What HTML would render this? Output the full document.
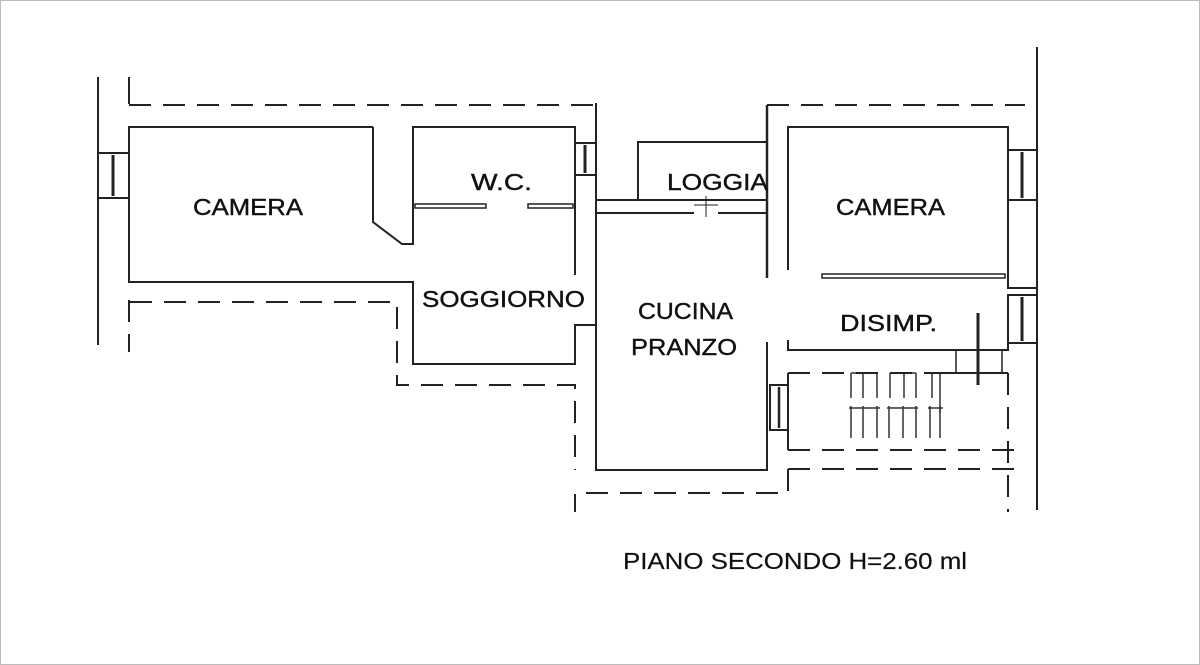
<!DOCTYPE html>
<html><head><meta charset="utf-8"><style>
html,body{margin:0;padding:0;background:#fff}
svg{display:block}
text{font-family:"Liberation Sans",Arial,sans-serif;font-size:23px;fill:#111;stroke:#111;stroke-width:0.4}
</style></head><body>
<svg width="1200" height="665" viewBox="0 0 1200 665" xmlns="http://www.w3.org/2000/svg">
<rect x="0.5" y="0.5" width="1199" height="664" fill="#fff" stroke="#bbb"/>
<g stroke="#222" stroke-width="2" fill="none">
<line x1="98" y1="77" x2="98" y2="345"/>
<line x1="129" y1="77" x2="129" y2="104"/>
<rect x="98" y="153" width="31" height="45"/>
<line x1="113" y1="155" x2="113" y2="196" stroke-width="3"/>
<polyline points="373,127 129,127 129,282 413,282 413,364 575,364 575,325 596,325"/>
<polyline points="373,127 373,222 402,244 413,244 413,127 575,127 575,275"/>
<rect x="575" y="143" width="21" height="32"/>
<line x1="585" y1="145" x2="585" y2="173" stroke-width="3"/>
<line x1="596" y1="103" x2="596" y2="280"/>
<rect x="415" y="204" width="71" height="4" stroke-width="1.5"/>
<rect x="528" y="204" width="45" height="4" stroke-width="1.5"/>
<polyline points="638,200 638,142 766,142"/>
<line x1="596" y1="200" x2="766" y2="200"/>
<line x1="596" y1="213" x2="694" y2="213"/>
<line x1="718" y1="213" x2="766" y2="213"/>
<line x1="694" y1="205" x2="718" y2="205" stroke-width="1"/>
<line x1="706" y1="196" x2="706" y2="217" stroke-width="1"/>
<polyline points="596,213 596,470 767,470 767,342"/>
<line x1="767" y1="105" x2="767" y2="278" stroke-width="2.5"/>
<polyline points="788,270 788,127 1008,127 1008,288 1037,288"/>
<rect x="822" y="274" width="183" height="4" stroke-width="1.5"/>
<rect x="1008" y="150" width="29" height="50"/>
<line x1="1022" y1="152" x2="1022" y2="198" stroke-width="3"/>
<line x1="1037" y1="47" x2="1037" y2="510"/>
<polyline points="788,340 788,350 1008,350 1008,295"/>
<rect x="1008" y="295" width="29" height="48"/>
<line x1="1022" y1="297" x2="1022" y2="341" stroke-width="3"/>
<line x1="978" y1="313" x2="978" y2="385" stroke-width="3"/>
<rect x="956" y="350" width="46" height="23" stroke-width="1.5"/>
<line x1="940" y1="373" x2="1008" y2="373"/>
<polyline points="788,373 788,450"/>
<rect x="770" y="385" width="18" height="45"/>
<line x1="779" y1="387" x2="779" y2="428" stroke-width="2.5"/>
<polyline points="767,373 767,430"/>
</g>
<g stroke="#333" stroke-width="1.5" fill="none">
<path d="M851 373V398M863 373V398M877 373V398M890 373V398M904 373V398M916 373V398M932 373V398M940 373V413"/>
<path d="M851 406V438M863 406V438M877 406V438M889 406V438M903 406V438M916 406V438M930 406V438M940 406V438"/>
<path d="M851 373H877M890 373H916M932 373H940M849 408H880M887 408H918M928 408H943"/>
</g>
<g stroke="#222" stroke-width="2" fill="none" stroke-dasharray="22,12">
<line x1="129" y1="105" x2="596" y2="105"/>
<line x1="767" y1="105" x2="1025" y2="105"/>
<polyline points="130,302 397,302 397,385 575,385 575,470"/>
<line x1="129" y1="300" x2="129" y2="352"/>
<line x1="788" y1="373" x2="950" y2="373"/>
<line x1="788" y1="450" x2="1022" y2="450"/>
<line x1="788" y1="469" x2="1022" y2="469"/>
<polyline points="788,469 788,493 575,493 575,512"/>
<line x1="1008" y1="373" x2="1008" y2="512"/>
</g>
<text x="193" y="215" textLength="110" lengthAdjust="spacingAndGlyphs">CAMERA</text>
<text x="471" y="190" textLength="61" lengthAdjust="spacingAndGlyphs">W.C.</text>
<text x="667" y="190" textLength="101" lengthAdjust="spacingAndGlyphs">LOGGIA</text>
<text x="836" y="215" textLength="109" lengthAdjust="spacingAndGlyphs">CAMERA</text>
<text x="422" y="307" textLength="163" lengthAdjust="spacingAndGlyphs">SOGGIORNO</text>
<text x="638" y="319" textLength="95" lengthAdjust="spacingAndGlyphs">CUCINA</text>
<text x="631" y="355" textLength="106" lengthAdjust="spacingAndGlyphs">PRANZO</text>
<text x="840" y="331" textLength="97" lengthAdjust="spacingAndGlyphs">DISIMP.</text>
<text x="623" y="569" textLength="344" lengthAdjust="spacingAndGlyphs" style="stroke-width:0.2">PIANO SECONDO H=2.60 ml</text>
</svg>
</body></html>
